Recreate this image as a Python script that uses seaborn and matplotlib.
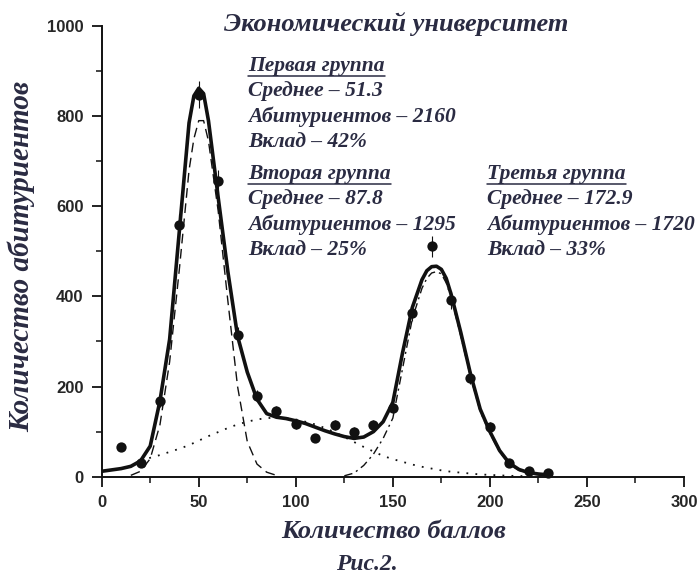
import matplotlib
matplotlib.use("Agg")
import matplotlib.pyplot as plt
from matplotlib.lines import Line2D
from matplotlib.ticker import MultipleLocator
import pandas as pd
import seaborn as sns

# measured histogram (bin width 10 points)
score_bins = [10, 20, 30, 40, 50, 60, 70, 80, 90, 100, 110, 120,
              130, 140, 150, 160, 170, 180, 190, 200, 210, 220, 230]
applicants = [65, 30, 168, 558, 848, 655, 315, 180, 145, 117, 86, 115,
              100, 115, 153, 364, 511, 392, 220, 111, 30, 12, 8]
applicants_err = [8, 5, 13, 24, 29, 26, 18, 13, 12, 11, 9, 11,
                  10, 11, 12, 19, 23, 20, 15, 11, 5, 3, 3]

# total fit (solid line)
fit_x = [0, 5, 10, 15, 20, 25, 30, 35, 40, 45, 47.5, 50, 52.5, 55, 60, 65,
         70, 75, 80, 85, 90, 95, 100, 105, 110, 115, 120, 125, 130, 135, 140,
         145, 150, 155, 160, 165, 167.5, 170, 172.5, 175, 177.5, 180, 185,
         190, 195, 200, 205, 210, 215, 220, 225, 230]
fit_total = [12, 15, 18, 23, 35, 68, 168, 305, 545, 785, 845, 862, 850, 790,
             620, 455, 312, 232, 172, 140, 132, 129, 124, 118, 110, 102, 95,
             89, 85, 88, 100, 122, 165, 275, 375, 437, 457, 466, 467, 460,
             440, 405, 320, 228, 150, 100, 58, 30, 16, 9, 6, 4]

# first group (dashed)
g1_x = [15, 20, 25, 30, 35, 40, 45, 47.5, 50, 52.5, 55, 60, 65, 70, 75, 80,
        85, 90]
g1_y = [3, 12, 40, 115, 255, 460, 680, 750, 790, 790, 745, 590, 390, 200, 78,
        28, 10, 3]

# second group (dotted)
g2_x = [20, 25, 30, 35, 40, 45, 50, 55, 60, 65, 70, 75, 80, 85, 90, 95, 100,
        105, 110, 115, 120, 125, 130, 135, 140, 145, 150, 155, 160, 165, 170,
        175, 180, 185, 190, 195, 200, 205, 210, 215, 220, 225, 230]
g2_y = [36, 42, 48, 55, 62, 70, 80, 90, 99, 108, 116, 122, 127, 130, 131,
        130, 127, 122, 116, 108, 99, 88, 77, 66, 56, 46, 39, 33, 27, 22, 18,
        14, 11, 9, 7, 5, 4, 3, 2, 1.5, 1, 0.5, 0]

# third group (dash-dot)
g3_x = [125, 130, 135, 140, 145, 150, 155, 160, 165, 167.5, 170, 172.5, 175,
        177.5, 180, 185, 190, 195, 200, 205, 210, 215, 220, 225, 230]
g3_y = [2, 8, 25, 50, 85, 130, 240, 350, 418, 440, 452, 455, 450, 430, 398,
        312, 222, 145, 96, 55, 28, 14, 7, 4, 2]

groups = [
    (["Первая группа", "Среднее – 51.3", "Абитуриентов – 2160", "Вклад – 42%"], 248, 66),
    (["Вторая группа", "Среднее – 87.8", "Абитуриентов – 1295", "Вклад – 25%"], 248, 174),
    (["Третья группа", "Среднее – 172.9", "Абитуриентов – 1720", "Вклад – 33%"], 487, 174),
]

sns.set_style("ticks")
plt.rcParams["font.family"] = ["Liberation Sans", "DejaVu Sans"]

W, H = 697, 577
fig = plt.figure(figsize=(W / 100, H / 100), dpi=100)
ax = fig.add_axes([101.7 / W, 1 - 476.7 / H, (684 - 101.7) / W, (476.7 - 26) / H])

ink = "#111111"
text_col = "#2a2b42"

sns.lineplot(x=fit_x, y=fit_total, ax=ax, color=ink, lw=2.6, zorder=4)
sns.lineplot(x=g1_x, y=g1_y, ax=ax, color=ink, lw=1.0, zorder=3,
             linestyle=(0, (7, 4)))
sns.lineplot(x=g2_x, y=g2_y, ax=ax, color=ink, lw=1.3, zorder=3,
             linestyle=(0, (1, 4)))
sns.lineplot(x=g3_x, y=g3_y, ax=ax, color=ink, lw=1.0, zorder=3,
             linestyle=(0, (6, 3, 1.5, 3)))

pts = pd.DataFrame({"score": score_bins, "n": applicants, "err": applicants_err})
ax.errorbar(pts["score"], pts["n"], yerr=pts["err"], fmt="none",
            ecolor=ink, elinewidth=0.8, capsize=0, zorder=5)
sns.scatterplot(data=pts, x="score", y="n", ax=ax, color=ink, s=55,
                edgecolor=ink, linewidth=0, zorder=6, clip_on=False)

ax.set_xlim(0, 300)
ax.set_ylim(0, 1000)
ax.xaxis.set_major_locator(MultipleLocator(50))
ax.xaxis.set_minor_locator(MultipleLocator(25))
ax.yaxis.set_major_locator(MultipleLocator(200))
ax.yaxis.set_minor_locator(MultipleLocator(100))
ax.tick_params(which="major", length=7, width=1.3, color=ink,
               labelsize=12, pad=6)
ax.tick_params(which="minor", length=4, width=1.1, color=ink)
for lab in ax.get_xticklabels() + ax.get_yticklabels():
    lab.set_fontweight("bold")
for s in ["left", "bottom"]:
    ax.spines[s].set_linewidth(1.4)
    ax.spines[s].set_color(ink)
sns.despine(ax=ax)
ax.set_xlabel("")
ax.set_ylabel("")

serif = dict(family=["Liberation Serif", "DejaVu Serif"], style="italic",
             weight="bold", color=text_col)

fig.text(396 / W, 1 - 24 / H, "Экономический университет", ha="center",
         va="center", fontsize=19, **serif)
fig.text(394 / W, 1 - 531 / H, "Количество баллов", ha="center",
         va="center", fontsize=19, **serif)
fig.text(367 / W, 1 - 565 / H, "Рис.2.", ha="center", va="center",
         fontsize=17, **serif)
fig.text(21 / W, 1 - 257 / H, "Количество абитуриентов", ha="center",
         va="center", rotation=90, fontsize=21, **serif)

heads = []
for lines, x0, y0 in groups:
    for i, line in enumerate(lines):
        t = fig.text(x0 / W, 1 - (y0 + i * 25.3) / H, line, ha="left",
                     va="center", fontsize=15.5, **serif)
        if i == 0:
            heads.append((t, y0))

# underline the group headings
renderer = fig.canvas.get_renderer()
for t, y0 in heads:
    bb = t.get_window_extent(renderer)
    yline = 1 - (y0 + 10) / H
    fig.add_artist(Line2D([bb.x0 / W, bb.x1 / W], [yline, yline],
                          transform=fig.transFigure, color=text_col, lw=1.1))

fig.savefig("out.png", dpi=100, facecolor="white")
